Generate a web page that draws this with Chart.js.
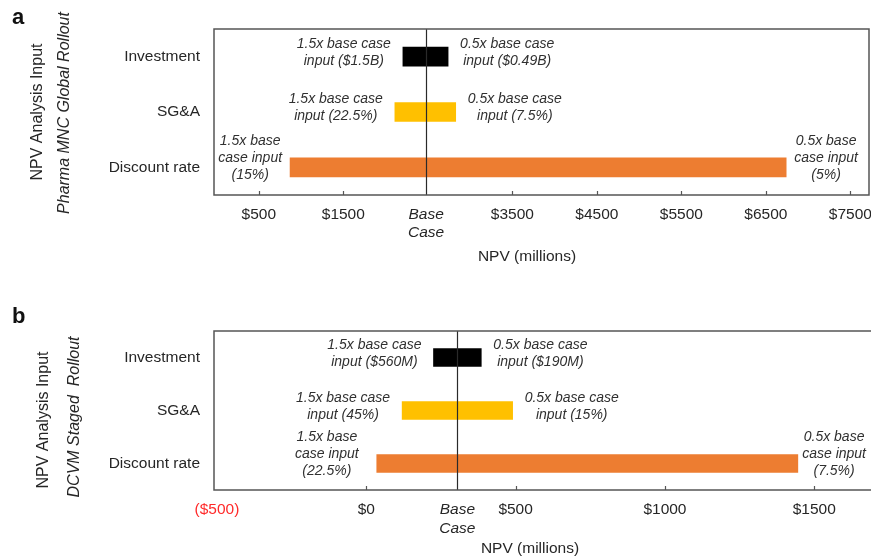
<!DOCTYPE html>
<html>
<head>
<meta charset="utf-8">
<title>NPV sensitivity</title>
<script src="https://cdn.jsdelivr.net/npm/chart.js@4.4.1/dist/chart.umd.min.js"></script>
<style>
  html, body { margin: 0; padding: 0; background: #fff; }
  #wrap { position: relative; width: 871px; height: 560px; background: #fff; }
  canvas { position: absolute; left: 0; }
</style>
</head>
<body>
<div id="wrap">
  <canvas id="panelA" width="871" height="280" style="top:0"></canvas>
  <canvas id="panelB" width="871" height="280" style="top:280px"></canvas>
</div>
<script>
// Inputs varied in the sensitivity analysis
const categories = ['Investment', 'SG&A', 'Discount rate'];
const barColors = ['#000000', '#FFC000', '#ED7D31'];

// (a) Pharma MNC global rollout — NPV in $ millions
const mncBaseCase = 2480;
const mncHighInputNpv = [2205, 2110, 870];   // 1.5x base case input
const mncLowInputNpv = [2740, 2830, 6740];   // 0.5x base case input
const mncHighInputLabels = [
  ['1.5x base case', 'input ($1.5B)'],
  ['1.5x base case', 'input (22.5%)'],
  ['1.5x base', 'case input', '(15%)']
];
const mncLowInputLabels = [
  ['0.5x base case', 'input ($0.49B)'],
  ['0.5x base case', 'input (7.5%)'],
  ['0.5x base', 'case input', '(5%)']
];
const mncTicks = [500, 1500, 3500, 4500, 5500, 6500, 7500];

// (b) DCVM staged rollout — NPV in $ millions
const dcvmBaseCase = 305;
const dcvmHighInputNpv = [225, 120, 35];     // 1.5x base case input
const dcvmLowInputNpv = [385, 490, 1445];    // 0.5x base case input
const dcvmHighInputLabels = [
  ['1.5x base case', 'input ($560M)'],
  ['1.5x base case', 'input (45%)'],
  ['1.5x base', 'case input', '(22.5%)']
];
const dcvmLowInputLabels = [
  ['0.5x base case', 'input ($190M)'],
  ['0.5x base case', 'input (15%)'],
  ['0.5x base', 'case input', '(7.5%)']
];
const dcvmTicks = [-500, 0, 500, 1000, 1500];

const FONT = "'Liberation Sans', Arial, Helvetica, sans-serif";
const TEXT = '#262626';
Chart.defaults.font.family = FONT;

function money(v) {
  return v < 0 ? '($' + (-v) + ')' : '$' + v;
}

// Draws frame, base-case line, inner tick marks, value notes and panel titles
const panelDecor = {
  id: 'panelDecor',
  afterDatasetsDraw(chart) {
    const p = chart.options.plugins.panelDecor;
    const ctx = chart.ctx;
    const area = chart.chartArea;
    const xs = chart.scales.x;
    ctx.save();

    // base-case reference line
    const bx = Math.round(xs.getPixelForValue(p.base)) + 0.5;
    ctx.strokeStyle = '#2a2a2a';
    ctx.lineWidth = 1.2;
    ctx.beginPath();
    ctx.moveTo(bx, area.top);
    ctx.lineTo(bx, area.bottom);
    ctx.stroke();

    // frame
    ctx.strokeStyle = '#555';
    ctx.lineWidth = 1.5;
    ctx.beginPath();
    if (p.rightBorder) {
      ctx.rect(area.left, area.top, area.right - area.left, area.bottom - area.top);
    } else {
      ctx.moveTo(chart.width, area.top);
      ctx.lineTo(area.left, area.top);
      ctx.lineTo(area.left, area.bottom);
      ctx.lineTo(chart.width, area.bottom);
    }
    ctx.stroke();

    // tick marks pointing into the plot
    ctx.lineWidth = 1.2;
    ctx.beginPath();
    p.ticks.forEach(v => {
      const tx = Math.round(xs.getPixelForValue(v)) + 0.5;
      if (tx - area.left < 8) return;
      ctx.moveTo(tx, area.bottom);
      ctx.lineTo(tx, area.bottom - 4);
    });
    ctx.stroke();

    // value notes beside each bar (kept inside the canvas)
    ctx.fillStyle = '#303030';
    ctx.font = 'italic 14px ' + FONT;
    ctx.textBaseline = 'middle';
    ctx.textAlign = 'center';
    const lh = 17;
    const meta = chart.getDatasetMeta(0);
    meta.data.forEach((bar, i) => {
      const cy = bar.y;
      const drawBlock = (lines, edge, side) => {
        const w = Math.max(...lines.map(s => ctx.measureText(s).width));
        const gap = lines.length > 2 ? p.gap3 : 12;
        let cx = side < 0 ? edge - gap - w / 2 : edge + gap + w / 2;
        cx = Math.min(cx, chart.width - 5 - w / 2);
        const shift = lines.length > 2 ? 9 : 4;
        const y0 = cy - shift - (lines.length - 1) * lh / 2;
        lines.forEach((s, k) => ctx.fillText(s, cx, y0 + k * lh));
      };
      drawBlock(p.highLabels[i], xs.getPixelForValue(p.high[i]), -1);
      drawBlock(p.lowLabels[i], xs.getPixelForValue(p.low[i]), 1);
    });

    // panel letter
    ctx.fillStyle = '#111';
    ctx.font = 'bold 22px ' + FONT;
    ctx.textAlign = 'left';
    ctx.textBaseline = 'alphabetic';
    ctx.fillText(p.letter, p.letterX, p.letterY);

    // rotated axis titles
    ctx.fillStyle = TEXT;
    ctx.textAlign = 'center';
    ctx.textBaseline = 'middle';
    p.sideTitles.forEach(t => {
      ctx.save();
      ctx.translate(t.x, t.y);
      ctx.rotate(-Math.PI / 2);
      ctx.font = (t.italic ? 'italic ' : '') + '16px ' + FONT;
      ctx.fillText(t.text, 0, 0);
      ctx.restore();
    });

    // x axis title
    ctx.font = '15.5px ' + FONT;
    ctx.fillText('NPV (millions)', p.xTitleX, p.xTitleY);

    ctx.restore();
  }
};

function makePanel(id, o) {
  const data = categories.map((c, i) => [o.high[i], o.low[i]]);
  return new Chart(document.getElementById(id), {
    type: 'bar',
    data: {
      labels: categories,
      datasets: [{
        data: data,
        backgroundColor: barColors,
        borderWidth: 0,
        borderSkipped: false,
        barThickness: o.barThickness
      }]
    },
    options: {
      indexAxis: 'y',
      responsive: false,
      animation: false,
      devicePixelRatio: 1,
      layout: { padding: { top: o.top, right: o.right, bottom: 0, left: 0 } },
      plugins: {
        legend: { display: false },
        tooltip: { enabled: false },
        panelDecor: {
          base: o.base, high: o.high, low: o.low,
          highLabels: o.highLabels, lowLabels: o.lowLabels,
          ticks: o.ticks, rightBorder: o.rightBorder, gap3: o.gap3,
          letter: o.letter, letterX: o.letterX, letterY: o.letterY,
          sideTitles: o.sideTitles,
          xTitleX: o.xTitleX, xTitleY: o.xTitleY
        }
      },
      scales: {
        x: {
          type: 'linear',
          min: o.min,
          max: o.max,
          afterBuildTicks(scale) {
            scale.ticks = o.ticks.concat([o.base]).sort((a, b) => a - b).map(v => ({ value: v }));
          },
          afterFit(scale) {
            scale.height = o.xAxisHeight;
            scale.paddingLeft = 0;
            scale.paddingRight = 0;
          },
          grid: { display: false, drawTicks: false },
          border: { display: false },
          ticks: {
            padding: o.tickPad,
            maxRotation: 0,
            autoSkip: false,
            color: ctx => (ctx.tick && ctx.tick.value < 0) ? '#FF2A2A' : TEXT,
            font: ctx => ({
              size: 15.5,
              style: (ctx.tick && ctx.tick.value === o.base) ? 'italic' : 'normal'
            }),
            callback: v => v === o.base ? ['Base', 'Case'] : money(v)
          }
        },
        y: {
          type: 'category',
          afterFit(scale) { scale.width = 214; },
          grid: { display: false, drawTicks: false },
          border: { display: false },
          ticks: { padding: 14, color: TEXT, font: { size: 15.5 } }
        }
      }
    },
    plugins: [panelDecor]
  });
}

makePanel('panelA', {
  base: mncBaseCase, high: mncHighInputNpv, low: mncLowInputNpv,
  highLabels: mncHighInputLabels, lowLabels: mncLowInputLabels,
  ticks: mncTicks, min: -30, max: 7720,
  top: 29, right: 2, xAxisHeight: 85, tickPad: 10, barThickness: 19,
  rightBorder: true, gap3: 8,
  letter: 'a', letterX: 12, letterY: 24,
  sideTitles: [
    { text: 'NPV Analysis Input', x: 38, y: 112, italic: false },
    { text: 'Pharma MNC Global Rollout', x: 65, y: 113, italic: true }
  ],
  xTitleX: 527, xTitleY: 257
});

makePanel('panelB', {
  base: dcvmBaseCase, high: dcvmHighInputNpv, low: dcvmLowInputNpv,
  highLabels: dcvmHighInputLabels, lowLabels: dcvmLowInputLabels,
  ticks: dcvmTicks, min: -510, max: 1690,
  top: 51, right: 0, xAxisHeight: 70, tickPad: 10.5, barThickness: 18,
  rightBorder: false, gap3: 18,
  letter: 'b', letterX: 12, letterY: 43,
  sideTitles: [
    { text: 'NPV Analysis Input', x: 44, y: 140, italic: false },
    { text: 'DCVM Staged  Rollout', x: 75, y: 137, italic: true }
  ],
  xTitleX: 530, xTitleY: 269
});
</script>
</body>
</html>
